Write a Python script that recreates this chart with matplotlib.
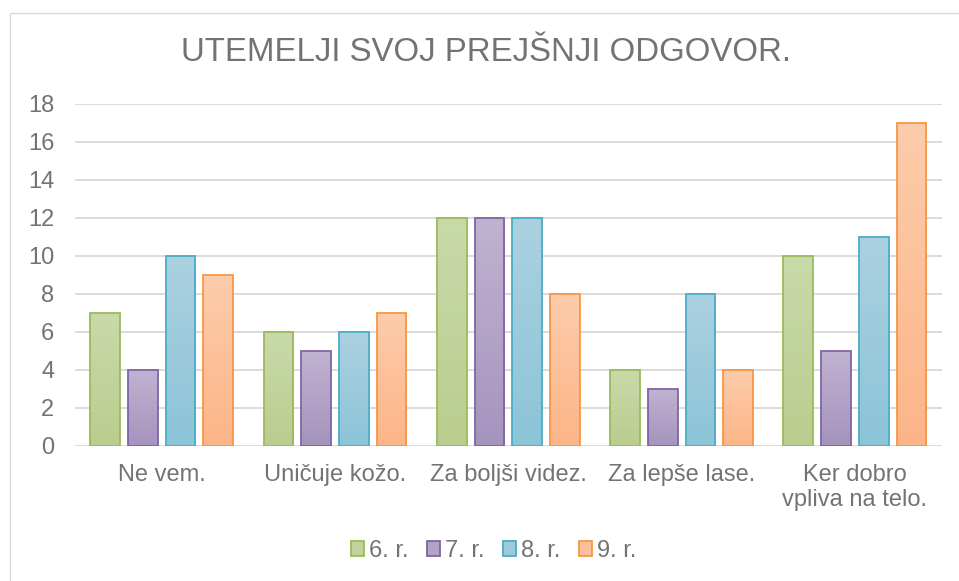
import numpy as np
import matplotlib
matplotlib.use("Agg")
import matplotlib.pyplot as plt
from matplotlib.patches import Patch, Rectangle

plt.rcParams['font.family'] = ['Liberation Sans', 'DejaVu Sans']

# podatki
kategorije = ["Ne vem.", "Uničuje kožo.", "Za boljši videz.", "Za lepše lase.", "Ker dobro\nvpliva na telo."]
razredi = ["6. r.", "7. r.", "8. r.", "9. r."]
r6 = [7, 6, 12, 4, 10]
r7 = [4, 5, 12, 3, 5]
r8 = [10, 6, 12, 8, 11]
r9 = [9, 7, 8, 4, 17]
serije = [r6, r7, r8, r9]

robovi = ['#9BBB59', '#8064A2', '#4BACC6', '#F79646']
zgoraj = ['#C9DAAA', '#C0B2D1', '#ABD1E0', '#FCCCAB']
spodaj = ['#BACD8E', '#A594BE', '#8CC4D8', '#FCB588']
sredina = ['#C2D49C', '#B3A3C7', '#9CCBDC', '#FCC09A']

siva = '#737373'
mreza = '#d9d9d9'

fig = plt.figure(figsize=(9.59, 5.81), dpi=100)
ax = fig.add_axes([0.0782, 0.2324, 0.9036, 0.5886])

# okvir grafikona
fig.patches.append(Rectangle((10/959, -0.05), 1.0, 1 - 13/581 + 0.05,
                             transform=fig.transFigure, fill=False,
                             edgecolor=mreza, linewidth=1.0))

x = np.arange(len(kategorije))
korak = 0.2174
sirina = 0.172

def v_rgb(h):
    h = h.lstrip('#')
    return np.array([int(h[i:i+2], 16) for i in (0, 2, 4)]) / 255.0

for i, vals in enumerate(serije):
    off = (i - 1.5) * korak
    bars = ax.bar(x + off, vals, width=sirina, facecolor='none',
                  edgecolor=robovi[i], linewidth=1.3, zorder=3)
    t = np.linspace(0, 1, 64)[:, None, None]
    grad = v_rgb(zgoraj[i])[None, None, :] * (1 - t) + v_rgb(spodaj[i])[None, None, :] * t
    for b, v in zip(bars, vals):
        x0 = b.get_x()
        im = ax.imshow(grad, extent=[x0, x0 + b.get_width(), 0, v],
                       aspect='auto', origin='upper', zorder=2, interpolation='bilinear')
        im.set_clip_path(b)

ax.set_xlim(-0.5, len(kategorije) - 0.5)
ax.set_ylim(0, 18)
ax.set_yticks(range(0, 19, 2))
ax.set_xticks(x)
ax.set_xticklabels(kategorije, fontsize=17, color=siva, linespacing=1.2)
ax.tick_params(axis='y', length=0, pad=15, labelsize=17, labelcolor=siva)
ax.tick_params(axis='x', length=0, pad=13)
ax.yaxis.grid(True, color=mreza, linewidth=1.3, zorder=0)
ax.set_axisbelow(True)
for s in ax.spines.values():
    s.set_visible(False)

fig.text(0.507, 0.909, "UTEMELJI SVOJ PREJŠNJI ODGOVOR.", ha='center', va='center',
         fontsize=23.8, color=siva)

rocaji = [Patch(facecolor=sredina[i], edgecolor=robovi[i], linewidth=1.3) for i in range(4)]
fig.legend(rocaji, razredi, loc='center', bbox_to_anchor=(0.515, 0.052), ncol=4,
           frameon=False, fontsize=17, labelcolor=siva, handlelength=0.55,
           handleheight=0.55, handletextpad=0.2, columnspacing=0.8)

fig.savefig("out.png", dpi=100)
